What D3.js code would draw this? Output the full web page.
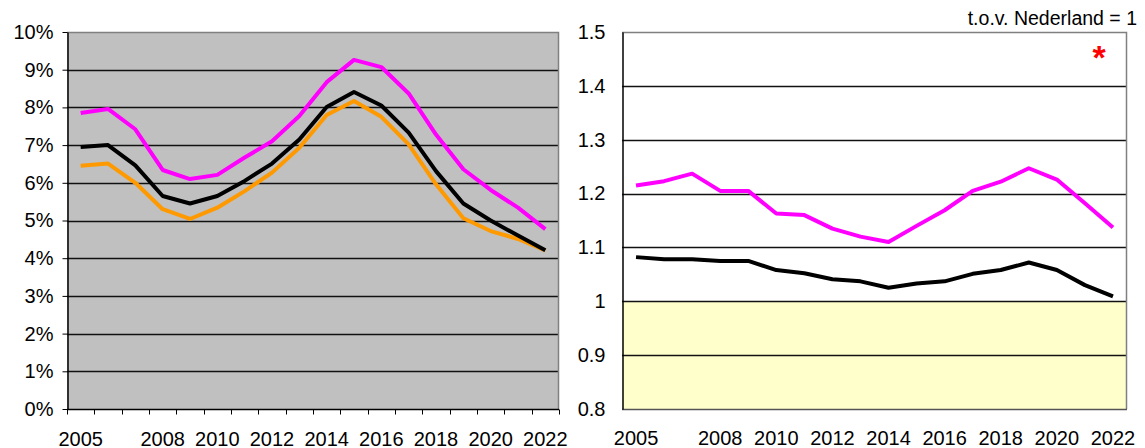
<!DOCTYPE html>
<html><head><meta charset="utf-8">
<script src="https://cdn.jsdelivr.net/npm/d3@7"></script>
<style>body{margin:0;background:#fff}svg{display:block;font-family:"Liberation Sans",Arial,sans-serif}</style>
</head><body><svg id="c" width="1145" height="448"></svg>
<script>
const years = d3.range(2005, 2023).map(String);
const yearLabels = ["2005","2008","2010","2012","2014","2016","2018","2020","2022"];
// Left chart: percentages
const leftMagenta = [7.85,7.96,7.42,6.34,6.10,6.21,6.67,7.10,7.77,8.67,9.26,9.07,8.37,7.28,6.36,5.81,5.34,4.77];
const leftBlack   = [6.95,7.00,6.46,5.65,5.45,5.65,6.05,6.51,7.15,8.01,8.41,8.05,7.33,6.31,5.45,5.00,4.60,4.21];
const leftOrange  = [6.45,6.51,6.00,5.30,5.04,5.34,5.78,6.27,6.93,7.80,8.17,7.75,7.02,5.96,5.06,4.72,4.51,4.21];
const leftTicks = [0,1,2,3,4,5,6,7,8,9,10];
// Right chart: index vs Netherlands
const rightMagenta = [1.215,1.223,1.237,1.205,1.205,1.163,1.160,1.135,1.120,1.110,1.140,1.169,1.205,1.222,1.247,1.226,1.182,1.137];
const rightBlack   = [1.082,1.078,1.078,1.075,1.075,1.058,1.052,1.041,1.037,1.025,1.033,1.037,1.051,1.058,1.072,1.058,1.030,1.009];
const rightTicks = [0.8,0.9,1.0,1.1,1.2,1.3,1.4,1.5];
const rightTickLabels = ["0.8","0.9","1","1.1","1.2","1.3","1.4","1.5"];
const unitLabel = "t.o.v. Nederland = 1";

const svg = d3.select("#c");
const FS = 20;

// ---------- Left chart ----------
const L = {x0:67, x1:559, y0:32, y1:409};
const xl = d3.scaleBand().domain(years).range([L.x0, L.x1]);
const yl = d3.scaleLinear().domain([0,10]).range([L.y1, L.y0]);
const gl = svg.append("g");
gl.append("rect").attr("x",L.x0).attr("y",L.y0).attr("width",L.x1-L.x0).attr("height",L.y1-L.y0).attr("fill","#c0c0c0");
gl.selectAll("line.grid").data(leftTicks.filter(d=>d>0 && d<10)).join("line")
  .attr("x1",L.x0).attr("x2",L.x1).attr("y1",d=>Math.round(yl(d))+0.5).attr("y2",d=>Math.round(yl(d))+0.5)
  .attr("stroke","#111").attr("stroke-width",1.3);
gl.append("path").attr("d",`M${L.x0},${L.y0+0.5}H${L.x1-0.5}V${L.y1}`).attr("fill","none").attr("stroke","#808080").attr("stroke-width",1.5);
const yAxisL = d3.axisLeft(yl).tickValues(leftTicks).tickFormat(d=>d+"%").tickSize(5).tickSizeOuter(0);
const gya = gl.append("g").attr("transform",`translate(${L.x0+0.5},0)`).call(yAxisL);
gya.select(".domain").attr("stroke","#000").attr("stroke-width",1.5);
gya.selectAll(".tick line").attr("stroke","#000");
gya.selectAll(".tick text").attr("x",-14).attr("font-size",FS).attr("fill","#000").attr("font-family","Liberation Sans, Arial, sans-serif");
const gxa = gl.append("g").attr("transform",`translate(0,${L.y1+0.5})`);
gxa.append("line").attr("x1",L.x0).attr("x2",L.x1).attr("stroke","#000").attr("stroke-width",1.5);
gxa.selectAll("line.t").data(years.concat(["end"])).join("line")
  .attr("x1",(d,i)=>Math.round(L.x0 + i*xl.step())+0.5).attr("x2",(d,i)=>Math.round(L.x0 + i*xl.step())+0.5)
  .attr("y1",0).attr("y2",5).attr("stroke","#000");
gxa.selectAll("text").data(yearLabels).join("text")
  .attr("x",d=>xl(d)+xl.bandwidth()/2).attr("y",36).attr("text-anchor","middle").attr("font-size",FS).text(d=>d);
const lineL = d3.line().x((d,i)=>xl(years[i])+xl.bandwidth()/2).y(d=>yl(d));
[[leftOrange,"#ff9900"],[leftBlack,"#000"],[leftMagenta,"#ff00ff"]].forEach(([s,c])=>{
  gl.append("path").attr("d",lineL(s)).attr("fill","none").attr("stroke",c).attr("stroke-width",4).attr("stroke-linejoin","round");
});

// ---------- Right chart ----------
const R = {x0:622, x1:1127, y0:32, y1:409};
const xr = d3.scaleBand().domain(years).range([R.x0, R.x1]);
const yr = d3.scaleLinear().domain([0.8,1.5]).range([R.y1, R.y0]);
const gr = svg.append("g");
gr.append("rect").attr("x",R.x0).attr("y",R.y0).attr("width",R.x1-R.x0).attr("height",R.y1-R.y0).attr("fill","#fff");
gr.append("rect").attr("x",R.x0).attr("y",yr(1.0)).attr("width",R.x1-R.x0).attr("height",R.y1-yr(1.0)).attr("fill","#ffffcc");
gr.selectAll("line.grid").data(rightTicks.filter(d=>d>0.85 && d<1.45)).join("line")
  .attr("x1",R.x0).attr("x2",R.x1).attr("y1",d=>Math.round(yr(d))+0.5).attr("y2",d=>Math.round(yr(d))+0.5)
  .attr("stroke","#111").attr("stroke-width",1.3);
gr.append("path").attr("d",`M${R.x0},${R.y0+0.5}H${R.x1-0.5}V${R.y1}`).attr("fill","none").attr("stroke","#808080").attr("stroke-width",1.5);
gr.append("line").attr("x1",R.x0).attr("x2",R.x1).attr("y1",R.y1+0.5).attr("y2",R.y1+0.5).attr("stroke","#555").attr("stroke-width",1.5);
const yAxisR = d3.axisLeft(yr).tickValues(rightTicks).tickFormat((d,i)=>rightTickLabels[i]).tickSize(0).tickSizeOuter(0);
const gyr = gr.append("g").attr("transform",`translate(${R.x0+0.5},0)`).call(yAxisR);
gyr.select(".domain").attr("stroke","#000").attr("stroke-width",1.5);
gyr.selectAll(".tick text").attr("x",-17).attr("font-size",FS).attr("fill","#000").attr("font-family","Liberation Sans, Arial, sans-serif");
gr.append("g").selectAll("text").data(yearLabels).join("text")
  .attr("x",d=>xr(d)+xr.bandwidth()/2).attr("y",R.y1+36).attr("text-anchor","middle").attr("font-size",FS).text(d=>d);
const lineR = d3.line().x((d,i)=>xr(years[i])+xr.bandwidth()/2).y(d=>yr(d));
[[rightBlack,"#000"],[rightMagenta,"#ff00ff"]].forEach(([s,c])=>{
  gr.append("path").attr("d",lineR(s)).attr("fill","none").attr("stroke",c).attr("stroke-width",4).attr("stroke-linejoin","round");
});
svg.append("text").attr("x",1137).attr("y",25).attr("text-anchor","end").attr("font-size",19.5).text(unitLabel);
svg.append("text").attr("x",1099).attr("y",69).attr("text-anchor","middle").attr("font-size",34).attr("font-weight","bold").attr("fill","#ff0000").text("*");
</script></body></html>
